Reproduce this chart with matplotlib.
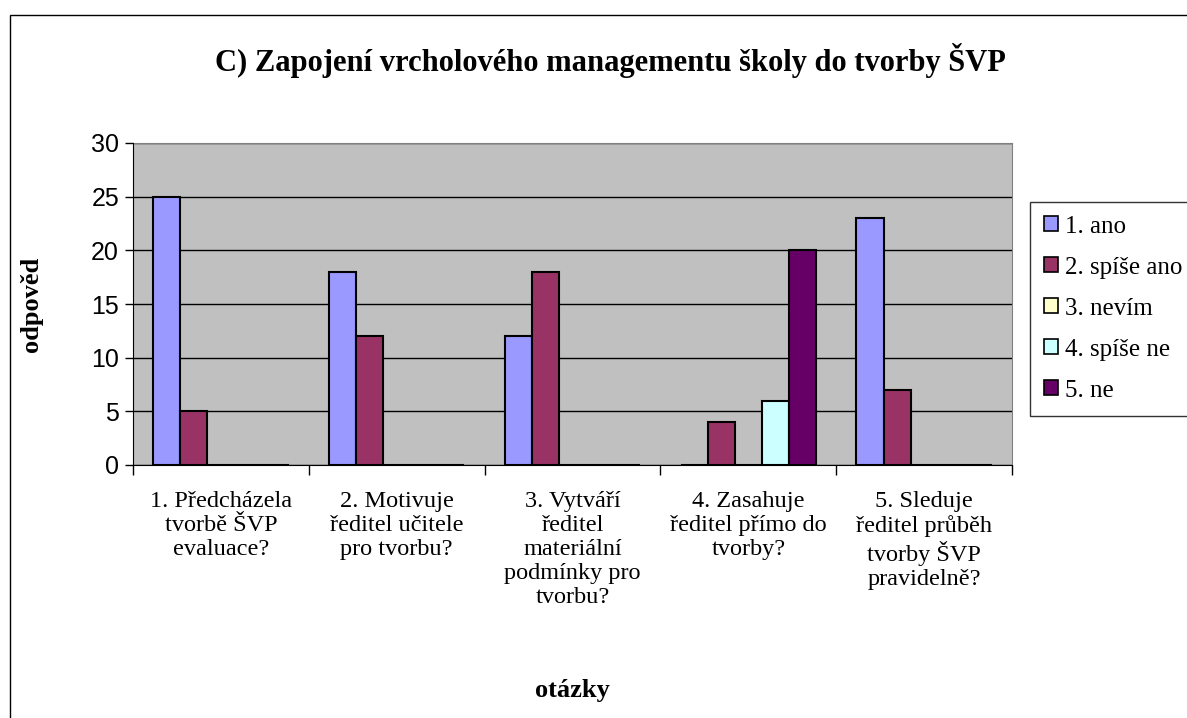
import numpy as np
import matplotlib.pyplot as plt
from matplotlib.patches import Rectangle

# Data
categories = [
    "1. Předcházela\ntvorbě ŠVP\nevaluace?",
    "2. Motivuje\nředitel učitele\npro tvorbu?",
    "3. Vytváří\nředitel\nmateriální\npodmínky pro\ntvorbu?",
    "4. Zasahuje\nředitel přímo do\ntvorby?",
    "5. Sleduje\nředitel průběh\ntvorby ŠVP\npravidelně?",
]
series_names = ["1. ano", "2. spíše ano", "3. nevím", "4. spíše ne", "5. ne"]
ano = [25, 18, 12, 0, 23]
spise_ano = [5, 12, 18, 4, 7]
nevim = [0, 0, 0, 0, 0]
spise_ne = [0, 0, 0, 6, 0]
ne = [0, 0, 0, 20, 0]
series_values = [ano, spise_ano, nevim, spise_ne, ne]
colors = ["#9999FF", "#993366", "#FFFFCC", "#CCFFFF", "#660066"]

serif = "Liberation Serif"
sans = "Liberation Sans"

fig = plt.figure(figsize=(11.87, 7.18), dpi=100)
ax = fig.add_axes([133 / 1187, 1 - 465 / 718, 879 / 1187, 322 / 718])
ax.set_facecolor("#C0C0C0")

# Excel style clustered bars: gap width 150%
n = len(series_names)
bw = 1.0 / (n + 1.5)
x = np.arange(len(categories))
for i, (name, vals, c) in enumerate(zip(series_names, series_values, colors)):
    offs = -0.5 + 0.75 * bw + i * bw + bw / 2
    ax.bar(x + offs, vals, width=bw, color=c, edgecolor="black",
           linewidth=1.5, label=name, zorder=3)

ax.set_xlim(-0.5, len(categories) - 0.5)
ax.set_ylim(0, 30)
ax.set_yticks(range(0, 31, 5))
ax.yaxis.grid(True, color="black", linewidth=1, zorder=1)
ax.set_axisbelow(True)
ax.tick_params(axis="y", labelsize=18, length=6, width=1, direction="out", pad=4)
for lab in ax.get_yticklabels():
    lab.set_fontfamily(sans)

ax.set_xticks(np.arange(-0.5, len(categories)), minor=False)
ax.set_xticklabels([])
ax.set_xticks(x, minor=True)
ax.set_xticklabels(categories, minor=True, fontfamily=serif, fontsize=17.5,
                   linespacing=1.18)
ax.tick_params(axis="x", which="major", length=7, width=1, direction="out")
ax.tick_params(axis="x", which="minor", length=0, pad=19)

for side in ["top", "right"]:
    ax.spines[side].set_color("#808080")
for side in ["left", "bottom"]:
    ax.spines[side].set_color("black")
    ax.spines[side].set_zorder(4)

ax.set_xlabel("otázky", fontfamily=serif, fontsize=19, fontweight="bold")
ax.xaxis.set_label_coords(0.5, -0.664)
ax.set_ylabel("odpověd", fontfamily=serif, fontsize=19, fontweight="bold")
ax.yaxis.set_label_coords(-0.102, 0.5)

fig.text(610 / 1187, 1 - 60 / 718,
         "C) Zapojení vrcholového managementu školy do tvorby ŠVP",
         ha="center", va="center", fontfamily=serif, fontsize=22,
         fontweight="bold")

leg = ax.legend(loc="upper left", bbox_to_anchor=(1030 / 1187, 1 - 202 / 718),
                bbox_transform=fig.transFigure, prop={"family": serif, "size": 18},
                frameon=True, fancybox=False, edgecolor="black",
                handlelength=0.55, handleheight=0.55, handletextpad=0.3,
                labelspacing=0.76, borderpad=0.55, borderaxespad=0)
leg.get_frame().set_linewidth(1)
for h in leg.legend_handles:
    h.set_linewidth(1.2)

# outer chart border
fig.patches.append(Rectangle((10 / 1187, -0.05), 1.2, 1.05 - 15 / 718,
                             transform=fig.transFigure, fill=False,
                             edgecolor="black", linewidth=1))

fig.savefig("out.png", dpi=100)
